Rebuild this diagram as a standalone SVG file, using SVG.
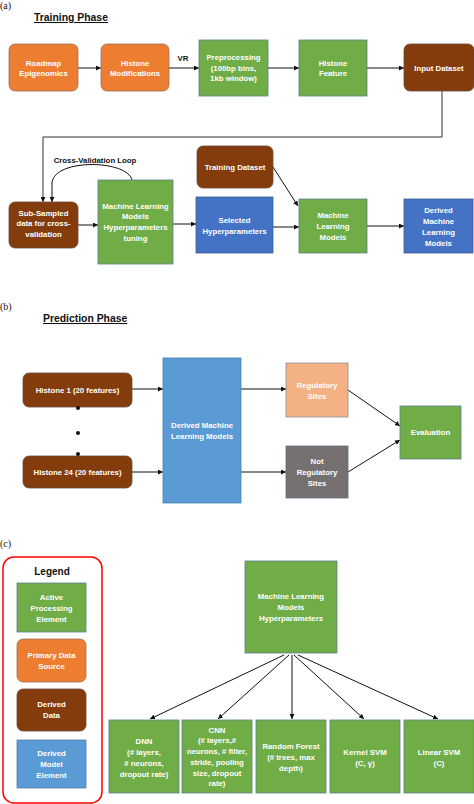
<svg xmlns="http://www.w3.org/2000/svg" width="474" height="804" viewBox="0 0 474 804">
<defs>
<marker id="arr" viewBox="0 0 10 10" refX="10" refY="5" markerWidth="5" markerHeight="5" markerUnits="userSpaceOnUse" orient="auto">
<path d="M0,0 L10,5 L0,10 z" fill="#111"/>
</marker>
</defs>
<style>
.t{font-family:"Liberation Sans",Arial,sans-serif;font-weight:bold;font-size:7.8px;fill:#fff;text-anchor:middle}
.lbl{font-family:"Liberation Sans",Arial,sans-serif;font-weight:bold;font-size:7.8px;fill:#111;text-anchor:middle}
.title{font-family:"Liberation Sans",Arial,sans-serif;font-weight:bold;font-size:10.4px;fill:#111;text-decoration:underline}
.pl{font-family:"Liberation Serif","Times New Roman",serif;font-size:10px;fill:#111}
.g{fill:#70AD47;stroke:#5a7f8f;stroke-width:0.8}
.o{fill:#ED7D31;stroke:#a0705a;stroke-width:0.8}
.b{fill:#843C0C;stroke:#6a4a3a;stroke-width:0.8}
.bl{fill:#4472C4;stroke:#3a5f9a;stroke-width:0.8}
.lb{fill:#5B9BD5;stroke:#4a80b0;stroke-width:0.8}
.c{fill:none;stroke:#111;stroke-width:1;marker-end:url(#arr)}
</style>
<rect width="474" height="804" fill="#fff"/>

<text class="pl" x="0" y="9">(a)</text>
<text class="title" x="34" y="21">Training Phase</text>
<text class="pl" x="0" y="310">(b)</text>
<text class="title" x="43" y="322">Prediction Phase</text>
<text class="pl" x="0" y="547">(c)</text>

<g id="connectors">
<line class="c" x1="78" y1="68" x2="101" y2="68"/>
<line class="c" x1="169" y1="68" x2="199" y2="68"/>
<line class="c" x1="268" y1="68" x2="299" y2="68"/>
<line class="c" x1="367" y1="68" x2="404" y2="68"/>
<polyline class="c" style="stroke:#333" points="442,91 442,137 43,137 43,202"/>
<path class="c" d="M132,180 C128,160 56,158 52,182 L52,202"/>
<line class="c" x1="78" y1="225" x2="98" y2="225"/>
<line class="c" x1="173" y1="224" x2="196" y2="224"/>
<line class="c" x1="273" y1="227" x2="299" y2="227"/>
<line class="c" x1="367" y1="226" x2="404" y2="226"/>
<line class="c" x1="273" y1="167" x2="298" y2="206"/>
<line class="c" x1="132" y1="389" x2="163" y2="389"/>
<line class="c" x1="132" y1="472" x2="163" y2="472"/>
<line class="c" x1="241" y1="389" x2="286" y2="389"/>
<line class="c" x1="241" y1="472" x2="286" y2="472"/>
<line class="c" x1="348" y1="390" x2="400" y2="426"/>
<line class="c" x1="348" y1="472" x2="400" y2="440"/>
<line class="c" x1="284" y1="655" x2="150" y2="719"/>
<line class="c" x1="289" y1="655" x2="218" y2="719"/>
<line class="c" x1="292" y1="655" x2="292" y2="719"/>
<line class="c" x1="294" y1="655" x2="364" y2="719"/>
<line class="c" x1="298" y1="655" x2="438" y2="719"/>
</g>
<text class="lbl" x="183" y="61">VR</text>
<text class="lbl" x="95" y="163">Cross-Validation Loop</text>

<g id="roadmap"><rect class="o" x="9" y="44" width="69" height="47" rx="6"/>
<text class="t" x="43.5" y="65.5">Roadmap<tspan x="43.5" dy="10.7">Epigenomics</tspan></text></g>
<g id="histmod"><rect class="o" x="101" y="44" width="68" height="47" rx="6"/>
<text class="t" x="135" y="65.5">Histone<tspan x="135" dy="10.7">Modifications</tspan></text></g>
<g id="preproc"><rect class="g" x="199" y="40" width="69" height="56"/>
<text class="t" x="233.5" y="60">Preprocessing<tspan x="233.5" dy="10.7">(100bp bins,</tspan><tspan x="233.5" dy="10.7">1kb window)</tspan></text></g>
<g id="histfeat"><rect class="g" x="299" y="40" width="68" height="56"/>
<text class="t" x="333" y="65.5">Histone<tspan x="333" dy="10.7">Feature</tspan></text></g>
<g id="input"><rect class="b" x="404" y="44" width="70" height="47" rx="6"/>
<text class="t" x="439" y="70.5">Input Dataset</text></g>

<g id="subsampled"><rect class="b" x="9" y="202" width="69" height="46" rx="6"/>
<text class="t" x="43.5" y="215.5">Sub-Sampled<tspan x="43.5" dy="10.8">data for cross-</tspan><tspan x="43.5" dy="10.8">validation</tspan></text></g>
<g id="mlhypertune"><rect class="g" x="98" y="180" width="75" height="84"/>
<text class="t" x="135.5" y="208.5">Machine Learning<tspan x="135.5" dy="10.8">Models</tspan><tspan x="135.5" dy="10.8">Hyperparameters</tspan><tspan x="135.5" dy="10.8">tuning</tspan></text></g>
<g id="selected"><rect class="bl" x="196" y="197" width="77" height="56"/>
<text class="t" x="234.5" y="223">Selected<tspan x="234.5" dy="10.7">Hyperparameters</tspan></text></g>
<g id="trainingds"><rect class="b" x="197" y="146" width="76" height="42" rx="6"/>
<text class="t" x="235" y="169.7">Training Dataset</text></g>
<g id="mlmodels"><rect class="g" x="299" y="199" width="68" height="54"/>
<text class="t" x="333" y="217.8">Machine<tspan x="333" dy="11">Learning</tspan><tspan x="333" dy="11">Models</tspan></text></g>
<g id="derivedtrain"><rect class="bl" x="404" y="199" width="69" height="54"/>
<text class="t" x="438.5" y="212.8">Derived<tspan x="438.5" dy="10.9">Machine</tspan><tspan x="438.5" dy="10.9">Learning</tspan><tspan x="438.5" dy="10.9">Models</tspan></text></g>

<g id="histone1"><rect class="b" x="23" y="373" width="109" height="34" rx="6"/>
<text class="t" x="77.5" y="392.7">Histone 1 (20 features)</text></g>
<g id="histone24"><rect class="b" x="23" y="456" width="109" height="32" rx="6"/>
<text class="t" x="77.5" y="474.7">Histone 24 (20 features)</text></g>
<g id="dots" fill="#111"><circle cx="78" cy="408" r="2"/><circle cx="78" cy="433" r="2"/><circle cx="78" cy="454" r="2"/></g>
<g id="derivedpred"><rect class="lb" x="163" y="358" width="78" height="145"/>
<text class="t" x="202" y="427.8">Derived Machine<tspan x="202" dy="10.7">Learning Models</tspan></text></g>
<g id="regulatory"><rect x="286" y="363" width="62" height="54" fill="#F4B183" stroke="#8a8f9a" stroke-width="0.8"/>
<text class="t" x="317" y="387.8">Regulatory<tspan x="317" dy="10.7">Sites</tspan></text></g>
<g id="notregulatory"><rect x="286" y="446" width="62" height="52" fill="#767171" stroke="#5a6f80" stroke-width="0.8"/>
<text class="t" x="317" y="463.8">Not<tspan x="317" dy="11">Regulatory</tspan><tspan x="317" dy="11">Sites</tspan></text></g>
<g id="evaluation"><rect class="g" x="400" y="406" width="61" height="53"/>
<text class="t" x="430.5" y="435.2">Evaluation</text></g>

<g id="legend"><rect x="3" y="557" width="99" height="246" rx="11" fill="none" stroke="#FF0000" stroke-width="1.5"/>
<text x="52" y="575" text-anchor="middle" font-family="Liberation Sans, Arial, sans-serif" font-weight="bold" font-size="10" fill="#111">Legend</text>
<rect class="g" x="17" y="583" width="69" height="49"/>
<text class="t" x="51.5" y="599.5">Active<tspan x="51.5" dy="11">Processing</tspan><tspan x="51.5" dy="11">Element</tspan></text>
<rect class="o" x="17" y="639" width="69" height="43" rx="6"/>
<text class="t" x="51.5" y="657.8">Primary Data<tspan x="51.5" dy="10.7">Source</tspan></text>
<rect class="b" x="17" y="689" width="69" height="42" rx="6"/>
<text class="t" x="51.5" y="707">Derived<tspan x="51.5" dy="10.7">Data</tspan></text>
<rect class="lb" x="17" y="740" width="69" height="48"/>
<text class="t" x="51.5" y="756">Derived<tspan x="51.5" dy="10.9">Model</tspan><tspan x="51.5" dy="10.9">Element</tspan></text></g>

<g id="mlhyper"><rect class="g" x="245" y="561" width="92" height="92"/>
<text class="t" x="291" y="599.4">Machine Learning<tspan x="291" dy="10.7">Models</tspan><tspan x="291" dy="10.7">Hyperparameters</tspan></text></g>
<g id="dnn"><rect class="g" x="109" y="720" width="70" height="73"/>
<text class="t" x="144" y="744.4">DNN<tspan x="144" dy="10.7">(# layers,</tspan><tspan x="144" dy="10.7"># neurons,</tspan><tspan x="144" dy="10.7">dropout rate)</tspan></text></g>
<g id="cnn"><rect class="g" x="182" y="720" width="70" height="73"/>
<text class="t" x="217" y="732.7">CNN<tspan x="217" dy="10.7">(# layers,#</tspan><tspan x="217" dy="10.7">neurons, # filter,</tspan><tspan x="217" dy="10.7">stride, pooling</tspan><tspan x="217" dy="10.7">size, dropout</tspan><tspan x="217" dy="10.7">rate)</tspan></text></g>
<g id="rf"><rect class="g" x="256" y="720" width="70" height="73"/>
<text class="t" x="291" y="749.4">Random Forest<tspan x="291" dy="10.7">(# trees, max</tspan><tspan x="291" dy="10.7">depth)</tspan></text></g>
<g id="ksvm"><rect class="g" x="330" y="720" width="70" height="73"/>
<text class="t" x="365" y="755">Kernel SVM<tspan x="365" dy="10.7">(C, γ)</tspan></text></g>
<g id="lsvm"><rect class="g" x="404" y="720" width="70" height="73"/>
<text class="t" x="439" y="755">Linear SVM<tspan x="439" dy="10.7">(C)</tspan></text></g>
</svg>
